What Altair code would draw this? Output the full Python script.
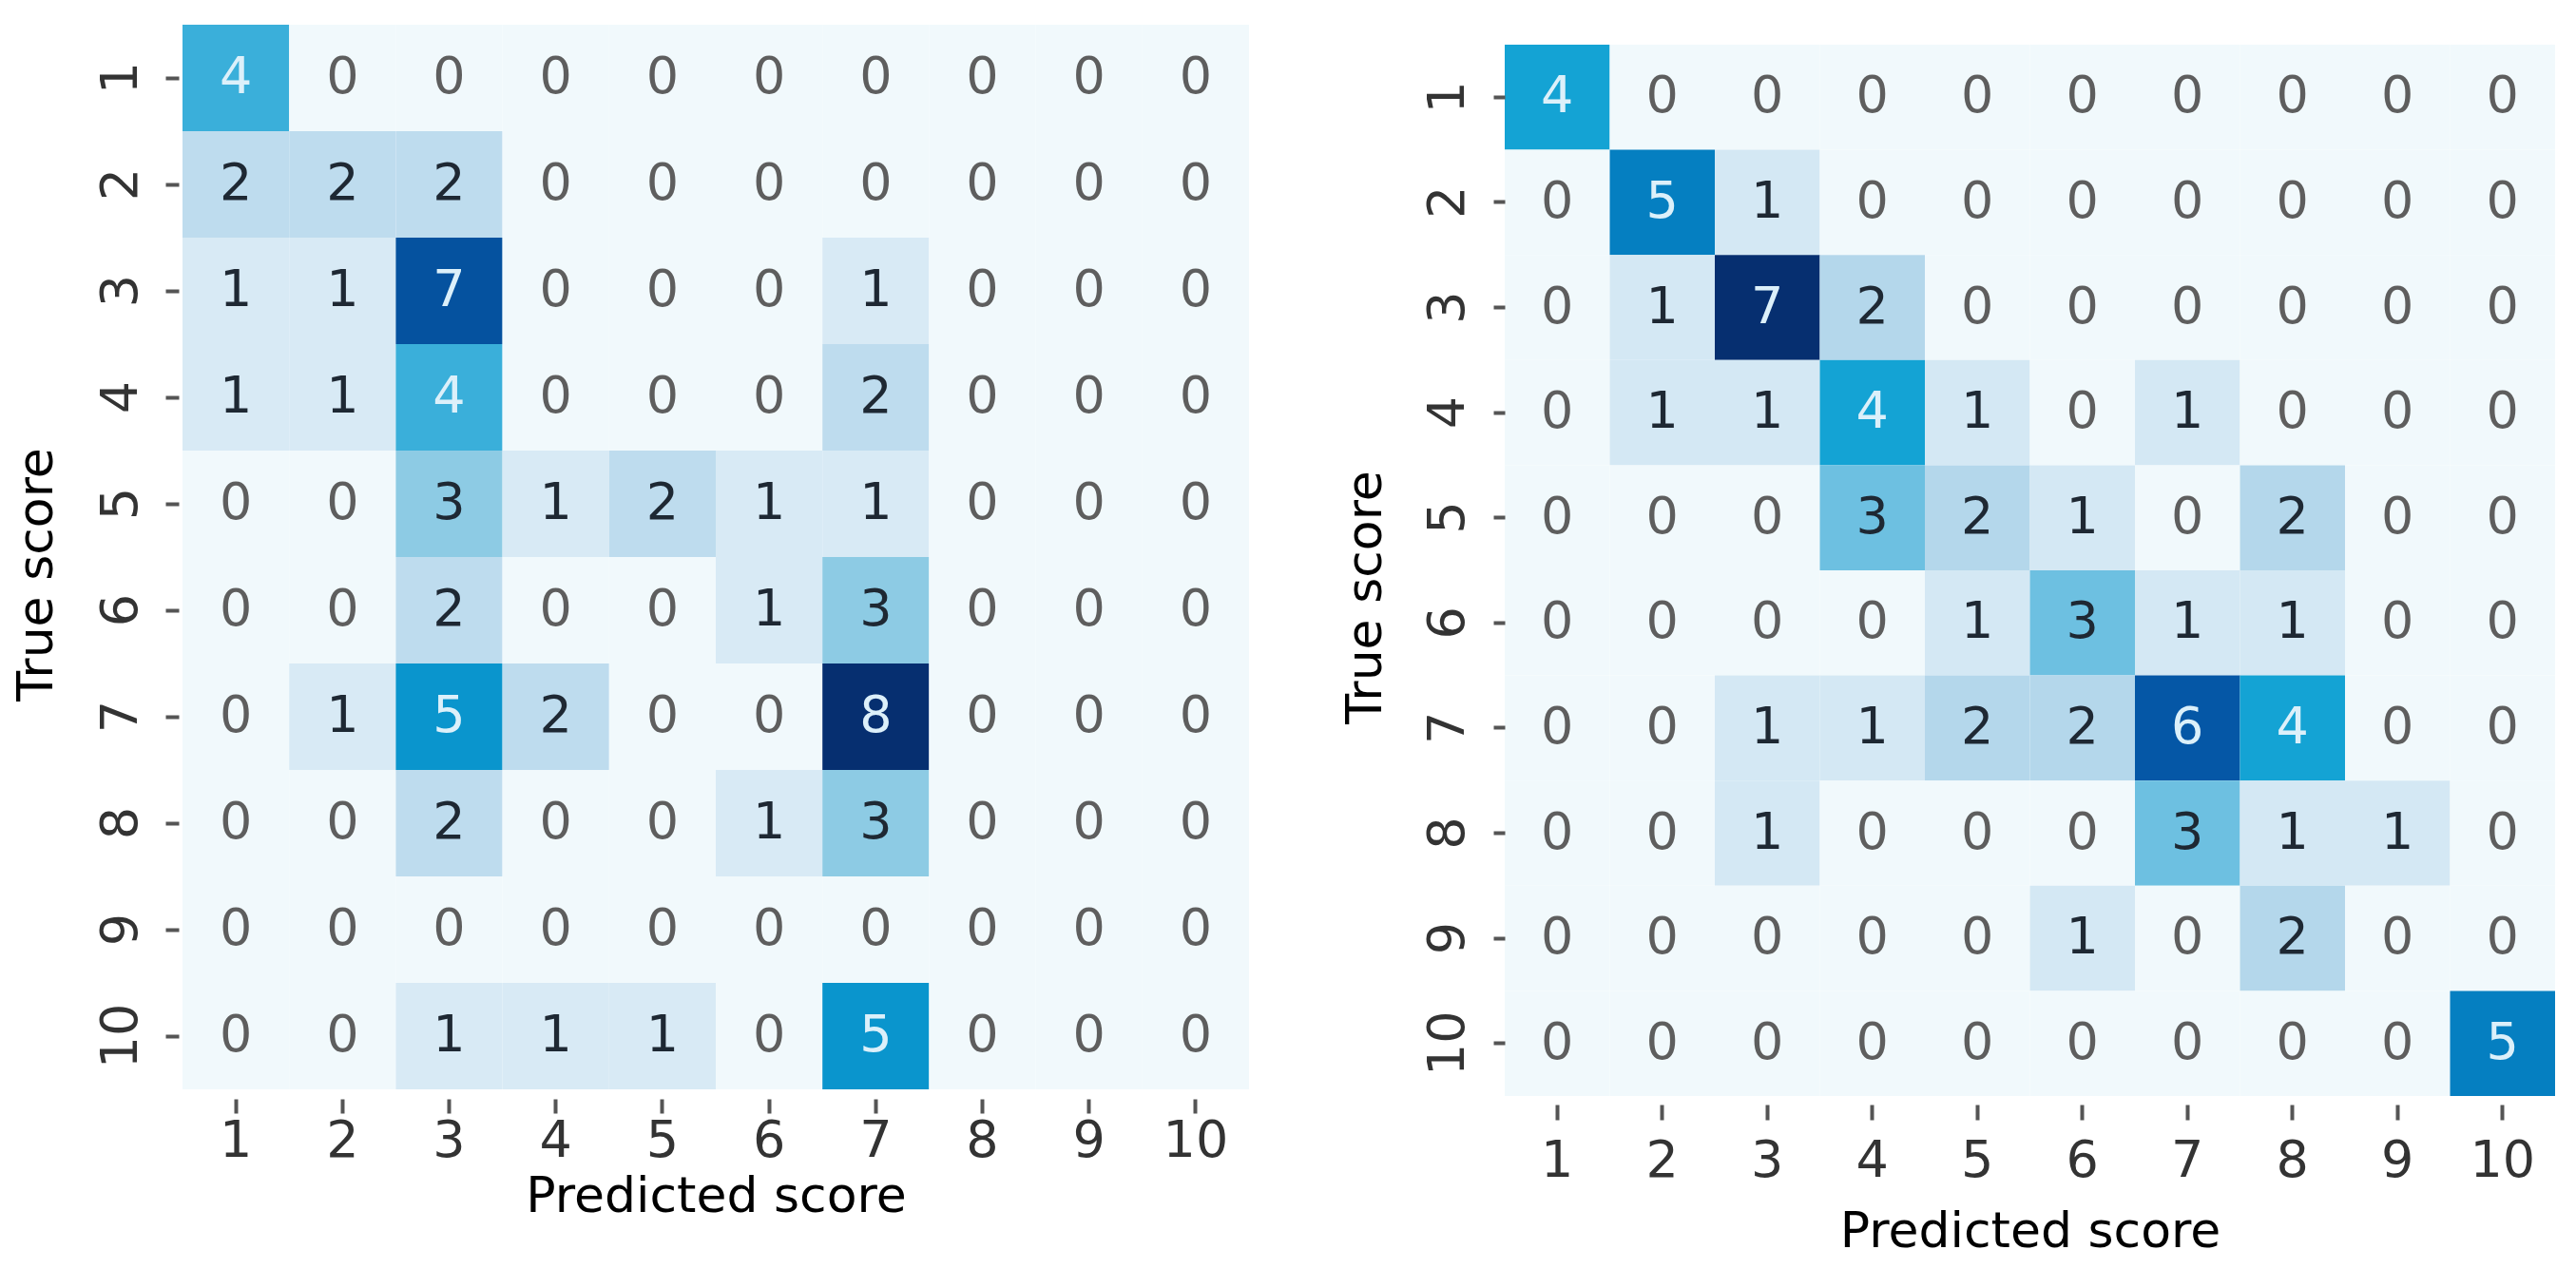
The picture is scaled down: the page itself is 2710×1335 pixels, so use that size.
import altair as alt
import pandas as pd

scores = ["1", "2", "3", "4", "5", "6", "7", "8", "9", "10"]

left_rows = [
    [4, 0, 0, 0, 0, 0, 0, 0, 0, 0],
    [2, 2, 2, 0, 0, 0, 0, 0, 0, 0],
    [1, 1, 7, 0, 0, 0, 1, 0, 0, 0],
    [1, 1, 4, 0, 0, 0, 2, 0, 0, 0],
    [0, 0, 3, 1, 2, 1, 1, 0, 0, 0],
    [0, 0, 2, 0, 0, 1, 3, 0, 0, 0],
    [0, 1, 5, 2, 0, 0, 8, 0, 0, 0],
    [0, 0, 2, 0, 0, 1, 3, 0, 0, 0],
    [0, 0, 0, 0, 0, 0, 0, 0, 0, 0],
    [0, 0, 1, 1, 1, 0, 5, 0, 0, 0],
]

right_rows = [
    [4, 0, 0, 0, 0, 0, 0, 0, 0, 0],
    [0, 5, 1, 0, 0, 0, 0, 0, 0, 0],
    [0, 1, 7, 2, 0, 0, 0, 0, 0, 0],
    [0, 1, 1, 4, 1, 0, 1, 0, 0, 0],
    [0, 0, 0, 3, 2, 1, 0, 2, 0, 0],
    [0, 0, 0, 0, 1, 3, 1, 1, 0, 0],
    [0, 0, 1, 1, 2, 2, 6, 4, 0, 0],
    [0, 0, 1, 0, 0, 0, 3, 1, 1, 0],
    [0, 0, 0, 0, 0, 1, 0, 2, 0, 0],
    [0, 0, 0, 0, 0, 0, 0, 0, 0, 5],
]

x_title = "Predicted score"
y_title = "True score"


def make_df(rows):
    m = max(max(r) for r in rows)
    recs = []
    for i, row in enumerate(rows):
        for j, v in enumerate(row):
            recs.append({"true": scores[i], "pred": scores[j], "value": v, "frac": v / m})
    return pd.DataFrame(recs)


FONT = "DejaVu Sans"

color_scale = alt.Scale(
    domain=[0, 0.13, 0.25, 0.29, 0.375, 0.43, 0.5, 0.57, 0.625, 0.71, 0.86, 1.0],
    range=["#f1f9fc", "#d7e9f5", "#bedcee", "#b3d6eb", "#8dcbe4", "#6cc0e1",
           "#3aafda", "#14a3d4", "#0a95cd", "#0580c2", "#0556a5", "#062f70"],
    interpolate="rgb",
)


def panel(rows, w, h, x_off, x_tick, x_pad, x_tpad, y_off, y_tick, y_pad, y_tpad, y_title_y):
    df = make_df(rows)
    base = alt.Chart(df).encode(
        x=alt.X(
            "pred:O", sort=scores, title=x_title,
            scale=alt.Scale(paddingInner=0, paddingOuter=0),
            axis=alt.Axis(
                orient="bottom", labelAngle=0, labelFont=FONT, labelFontSize=54,
                labelColor="#333333", tickSize=x_tick, tickWidth=4, tickColor="#555555",
                domain=False, grid=False, offset=x_off, labelPadding=x_pad,
                titleFont=FONT, titleFontSize=52, titleFontWeight="normal",
                titleColor="#000000", titlePadding=x_tpad,
            ),
        ),
        y=alt.Y(
            "true:O", sort=scores, title=y_title,
            scale=alt.Scale(paddingInner=0, paddingOuter=0),
            axis=alt.Axis(
                orient="left", labelAngle=270, labelAlign="center",
                labelBaseline="alphabetic", labelFont=FONT, labelFontSize=54,
                labelColor="#333333", tickSize=y_tick, tickWidth=4, tickColor="#555555",
                domain=False, grid=False, offset=y_off, labelPadding=y_pad,
                titleFont=FONT, titleFontSize=52, titleFontWeight="normal",
                titleColor="#000000", titlePadding=y_tpad, titleAngle=270,
                titleY=y_title_y,
            ),
        ),
    )
    rect = base.mark_rect().encode(
        color=alt.Color("frac:Q", scale=color_scale, legend=None)
    )
    text = base.transform_calculate(
        tc="datum.frac >= 0.5 ? '#dcf0fa' : (datum.value == 0 ? '#5e5e5e' : '#1e2833')"
    ).mark_text(font=FONT, fontSize=54, baseline="middle", align="center").encode(
        text="value:Q",
        color=alt.Color("tc:N", scale=None),
    )
    return alt.layer(rect, text).resolve_scale(color="independent").properties(
        width=w, height=h
    )


left = panel(left_rows, 1122, 1120, 10, 15, 2, 6, 4, 14, 31, 35, 578)
right_panel = panel(right_rows, 1105, 1106, 9, 16, 16, 22, 0, 12, 32, 33, 581)

spacer = alt.Chart(pd.DataFrame({"s": [0]})).mark_point(opacity=0).encode(
    x=alt.value(0), y=alt.value(0)
).properties(width=1, height=1)

right = alt.vconcat(spacer, right_panel, spacing=18)

chart = alt.hconcat(left, right, spacing=95).configure_view(stroke=None).properties(
    padding={"left": 4, "top": 15, "right": 5, "bottom": 5},
    background="white",
)

chart.save("out.html", embed_options={"renderer": "svg", "actions": False})
